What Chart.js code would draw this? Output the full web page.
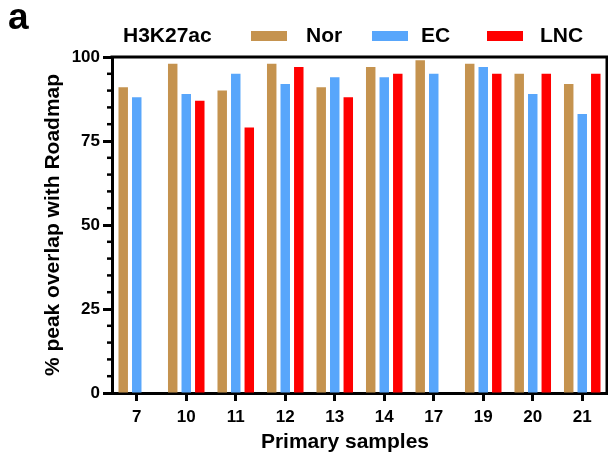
<!DOCTYPE html>
<html>
<head>
<meta charset="utf-8">
<script src="https://cdn.jsdelivr.net/npm/chart.js@4"></script>
<style>
  html, body { margin: 0; padding: 0; background: #fff; }
  #wrap {
    position: relative; width: 608px; height: 459px; overflow: hidden;
    font-family: "Liberation Sans", Arial, sans-serif; font-weight: bold; color: #000;
  }
  #wrap canvas { position: absolute; left: 0; top: 0; }
  .txt { position: absolute; white-space: nowrap; }
  .swatch { position: absolute; width: 36px; height: 10px; top: 31px; }
  #xtitle { position: absolute; left: 245px; width: 200px; top: 430px; text-align: center;
            font-size: 21px; line-height: 21px; }
</style>
</head>
<body>
<div id="wrap">
  <canvas id="chart" width="608" height="459"></canvas>
  <div class="txt" style="left:8px;top:-2px;font-size:37px;line-height:37px;">a</div>
  <div class="txt" id="mark" style="left:123px;top:24px;font-size:21px;line-height:21px;"></div>
  <div id="legend"></div>
  <div id="xtitle"></div>
</div>
<script>
// Samples and peak-overlap percentages per group
const categories = ['7', '10', '11', '12', '13', '14', '17', '19', '20', '21'];
const norValues = [91, 98, 90, 98, 91, 97, 99, 98, 95, 92];
const ecValues  = [88, 89, 95, 92, 94, 94, 95, 97, 89, 83];
const lncValues = [null, 87, 79, 97, 88, 95, null, 95, 95, 95];

const seriesNames  = ['Nor', 'EC', 'LNC'];
const seriesColors = ['#C5934F', '#58A6FB', '#FF0000'];
const markName = 'H3K27ac';
const xTitle = 'Primary samples';
const yTitle = '% peak overlap with Roadmap';

const yMajorTicks = [0, 25, 50, 75, 100];
const yMinorStep = 5;

const FONT = '"Liberation Sans", Arial, sans-serif';

// Header: histone mark and legend; x-axis caption
document.getElementById('mark').textContent = markName;
document.getElementById('xtitle').textContent = xTitle;
const legendBoxX = [251, 372, 487];
const legendTextX = [306, 421, 540];
const legend = document.getElementById('legend');
seriesNames.forEach((name, i) => {
  const sw = document.createElement('div');
  sw.className = 'swatch';
  sw.style.left = legendBoxX[i] + 'px';
  sw.style.background = seriesColors[i];
  legend.appendChild(sw);
  const t = document.createElement('div');
  t.className = 'txt';
  t.style.cssText = 'left:' + legendTextX[i] + 'px;top:24px;font-size:21px;line-height:21px;';
  t.textContent = name;
  legend.appendChild(t);
});

// Short ticks between the labelled y values, plus top/right frame lines
const framePlugin = {
  id: 'frameAndMinorTicks',
  afterDraw(chart) {
    const ctx = chart.ctx;
    const area = chart.chartArea;
    const y = chart.scales.y;
    ctx.save();
    ctx.strokeStyle = '#000';
    ctx.lineWidth = 2.5;
    for (let v = y.min; v <= y.max; v += yMinorStep) {
      if (yMajorTicks.includes(v)) continue;
      const py = y.getPixelForValue(v);
      ctx.beginPath();
      ctx.moveTo(area.left - 5, py);
      ctx.lineTo(area.left, py);
      ctx.stroke();
    }
    ctx.lineWidth = 3;
    ctx.beginPath();
    ctx.moveTo(area.left - 1.5, area.top);
    ctx.lineTo(area.right, area.top);
    ctx.lineTo(area.right, area.bottom + 1.5);
    ctx.stroke();
    ctx.restore();
  }
};

const values = [norValues, ecValues, lncValues];

new Chart(document.getElementById('chart'), {
  type: 'bar',
  data: {
    labels: categories,
    datasets: seriesNames.map((name, i) => ({
      label: name,
      data: values[i],
      backgroundColor: seriesColors[i],
      borderWidth: 0,
      categoryPercentage: 0.82,
      barPercentage: 0.70
    }))
  },
  options: {
    responsive: false,
    devicePixelRatio: 1,
    animation: false,
    layout: { padding: { left: 41, right: 1, top: 57, bottom: 7 } },
    plugins: {
      legend: { display: false },
      tooltip: { enabled: false }
    },
    scales: {
      x: {
        offset: true,
        border: { display: true, color: '#000', width: 3 },
        grid: {
          offset: false,
          drawOnChartArea: false,
          drawTicks: true,
          tickLength: 8,
          tickWidth: 3,
          color: '#000'
        },
        ticks: {
          color: '#000',
          padding: 6,
          font: { family: FONT, size: 17, weight: 'bold' }
        },
        afterFit(scale) {
          scale.height = 59;
          scale.paddingLeft = 0;
          scale.paddingRight = 0;
        }
      },
      y: {
        min: 0,
        max: 100,
        border: { display: true, color: '#000', width: 3 },
        grid: {
          drawOnChartArea: false,
          drawTicks: true,
          tickLength: 9,
          tickWidth: 3,
          color: '#000'
        },
        afterBuildTicks(scale) {
          scale.ticks = yMajorTicks.map(v => ({ value: v }));
        },
        ticks: {
          color: '#000',
          padding: 3,
          font: { family: FONT, size: 17, weight: 'bold' }
        },
        title: {
          display: true,
          text: yTitle,
          color: '#000',
          padding: 0,
          font: { family: FONT, size: 21, weight: 'bold' }
        },
        afterFit(scale) {
          scale.width = 71;
          scale.paddingTop = 0;
          scale.paddingBottom = 0;
        }
      }
    }
  },
  plugins: [framePlugin]
});
</script>
</body>
</html>
